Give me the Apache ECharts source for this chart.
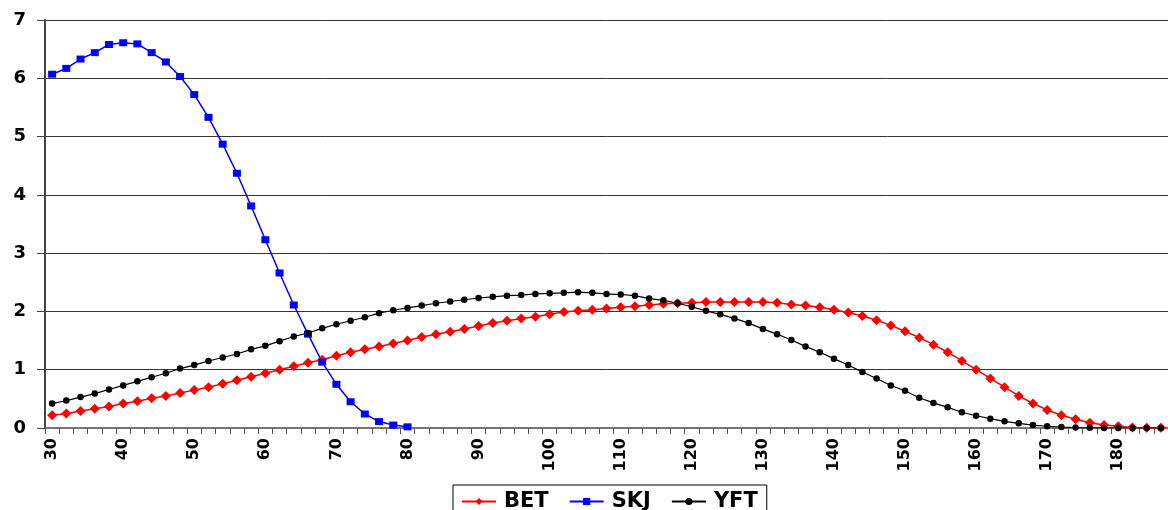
<!DOCTYPE html>
<html>
<head>
<meta charset="utf-8">
<script src="https://cdn.jsdelivr.net/npm/echarts@6/dist/echarts.min.js"></script>
<style>html,body{margin:0;padding:0;background:#fff}#c{width:1168px;height:510px}</style>
</head>
<body>
<div id="c"></div>
<script>
const categories = ['30','32','34','36','38','40','42','44','46','48','50','52','54','56','58','60','62','64','66','68','70','72','74','76','78','80','82','84','86','88','90','92','94','96','98','100','102','104','106','108','110','112','114','116','118','120','122','124','126','128','130','132','134','136','138','140','142','144','146','148','150','152','154','156','158','160','162','164','166','168','170','172','174','176','178','180','182','184','186'];

const BET = [0.22,0.25,0.29,0.33,0.37,0.42,0.46,0.51,0.55,0.60,0.65,0.70,0.76,0.82,0.88,0.94,1.00,1.06,1.12,1.17,
1.24,1.30,1.35,1.40,1.45,1.50,1.56,1.61,1.65,1.70,1.75,1.80,1.84,1.88,1.91,1.95,1.99,2.01,2.03,2.05,
2.07,2.09,2.11,2.13,2.14,2.15,2.16,2.16,2.16,2.16,2.16,2.15,2.12,2.10,2.07,2.03,1.98,1.92,1.85,1.76,
1.66,1.55,1.43,1.30,1.15,1.00,0.85,0.70,0.55,0.42,0.31,0.22,0.15,0.09,0.05,0.03,0.01,0.005,0.003];

const SKJ = [6.07,6.17,6.33,6.44,6.58,6.61,6.59,6.44,6.28,6.03,5.72,5.33,4.87,4.37,3.81,3.23,2.66,2.11,1.61,1.13,0.75,0.45,0.24,0.11,0.05,0.02];

const YFT = [0.42,0.47,0.53,0.59,0.66,0.73,0.80,0.87,0.94,1.02,1.08,1.15,1.21,1.27,1.35,1.41,1.49,1.57,1.63,1.71,
1.78,1.84,1.90,1.97,2.02,2.06,2.10,2.14,2.17,2.20,2.23,2.25,2.27,2.28,2.30,2.31,2.32,2.33,2.32,2.30,
2.29,2.27,2.22,2.19,2.14,2.08,2.01,1.95,1.88,1.80,1.70,1.61,1.51,1.40,1.30,1.19,1.08,0.96,0.85,0.73,
0.64,0.52,0.43,0.355,0.27,0.21,0.16,0.115,0.08,0.05,0.03,0.017,0.008,0.003,0.001,0,0,0,0];

const FONT = "'DejaVu Sans', 'Liberation Sans', Arial, sans-serif";
const chart = echarts.init(document.getElementById('c'), null, {renderer: 'canvas'});
chart.setOption({
  animation: false,
  backgroundColor: '#fff',
  grid: {left: 45, right: -3, top: 20, bottom: 82, containLabel: false},
  legend: {
    data: ['BET', 'SKJ', 'YFT'],
    left: 453, top: 485,
    borderColor: '#000', borderWidth: 1, borderRadius: 0,
    padding: [6, 9, 10, 8],
    itemWidth: 34, itemHeight: 9, itemGap: 20,
    textStyle: {fontFamily: FONT, fontWeight: 'bold', fontSize: 21, color: '#000', padding: [0,0,0,3]}
  },
  xAxis: {
    type: 'category',
    data: categories,
    boundaryGap: true,
    axisLine: {show: true, lineStyle: {color: '#777', width: 2}},
    axisTick: {show: true, interval: 0, length: 6, lineStyle: {color: '#555', width: 1}},
    axisLabel: {interval: 4, rotate: 90, margin: 10, fontFamily: FONT, fontWeight: 'bold', fontSize: 16, color: '#000'},
    splitLine: {show: false}
  },
  yAxis: {
    type: 'value', min: 0, max: 7, interval: 1,
    axisLine: {show: true, lineStyle: {color: '#444', width: 2}},
    axisTick: {show: true, length: 8, lineStyle: {color: '#444', width: 1}},
    axisLabel: {margin: 19, fontFamily: FONT, fontWeight: 'bold', fontSize: 18, color: '#000'},
    splitLine: {show: true, lineStyle: {color: '#333', width: 1}}
  },
  series: [
    {name: 'BET', type: 'line', data: BET, symbol: 'diamond', symbolSize: 10, showAllSymbol: true,
     itemStyle: {color: '#FF0000'}, lineStyle: {color: '#FF0000', width: 1.5}},
    {name: 'SKJ', type: 'line', data: SKJ, symbol: 'rect', symbolSize: [8, 7], showAllSymbol: true,
     itemStyle: {color: '#0000FF'}, lineStyle: {color: '#0000FF', width: 1.5}},
    {name: 'YFT', type: 'line', data: YFT, symbol: 'circle', symbolSize: 6.5, showAllSymbol: true,
     itemStyle: {color: '#000'}, lineStyle: {color: '#000', width: 1.2}}
  ]
});
</script>
</body>
</html>
